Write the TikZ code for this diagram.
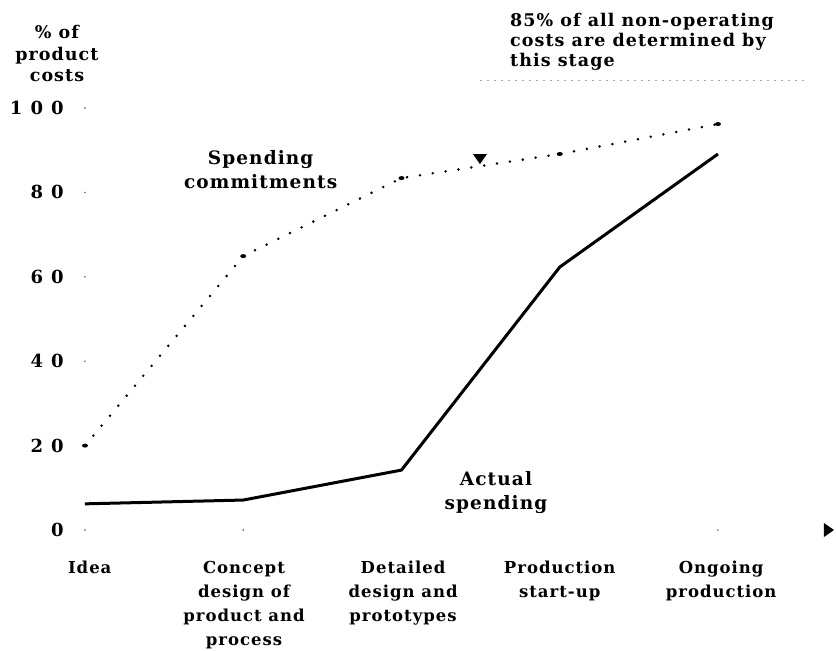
\documentclass[tikz,border=0pt]{standalone}
\usepackage{fontspec}
\setmainfont{DejaVu Serif}
\newfontfamily\chartfont{DejaVu Serif}[LetterSpace=6]
\newfontfamily\numfont{DejaVu Serif}[LetterSpace=45]

\tikzset{
  stagelabel/.style={anchor=north, align=center, inner sep=0pt,
    font=\chartfont\bfseries\fontsize{16.5}{24}\selectfont},
  curvelabel/.style={anchor=north, align=center, inner sep=0pt,
    font=\chartfont\bfseries\fontsize{18.5}{24}\selectfont},
  numlabel/.style={anchor=east, inner sep=0pt,
    font=\numfont\bfseries\fontsize{18}{20}\selectfont},
  dotline/.style={line width=2.8pt, line cap=round, dash pattern=on 0pt off 13pt},
  solidline/.style={line width=3pt, line join=round},
  tickdot/.style={fill=black!70}
}

\begin{document}
\begin{tikzpicture}[x=158.25pt, y=4.22pt]
\useasboundingbox (-0.537, -28.44) rectangle (4.746, 125.6);

% vertical scale
\node[curvelabel, font=\chartfont\bfseries\fontsize{17.5}{21.5}\selectfont] (yTitle) at (-0.177, 119.6) {\% of\\product\\costs};
\foreach \v in {0, 20, 40, 60, 80, 100}
  \node[numlabel] (num\v) at (-0.133, \v) {\v};
\foreach \v in {0, 40, 60, 80, 100}
  \fill[tickdot] (0, \v) circle (0.8pt);
\fill[tickdot] (1, 0) circle (0.8pt);
\fill[tickdot] (4, 0) circle (0.8pt);

% stages
\node[stagelabel] (idea) at (0.03, -7.35) {Idea};
\node[stagelabel] (concept) at (1.005, -7.35) {Concept\\design of\\product and\\process};
\node[stagelabel] (detailed) at (2.01, -7.35) {Detailed\\design and\\prototypes};
\node[stagelabel] (startup) at (3, -7.35) {Production\\start-up};
\node[stagelabel] (ongoing) at (4.02, -7.35) {Ongoing\\production};

\coordinate (axisEnd) at (4.733, 0);
\fill (axisEnd) -- ++(-10pt, 7pt) -- ++(0, -14pt) -- cycle;

% spending commitments
\coordinate (c0) at (0, 20);
\coordinate (c1) at (1, 64.9);
\coordinate (c2) at (2, 83.4);
\coordinate (c3) at (3, 89.1);
\coordinate (c4) at (4, 96.2);
\draw[dotline] (c0) -- (c1) -- (c2) -- (c3) -- (c4);
\foreach \p in {c0, c1, c2, c3, c4}
  \fill (\p) ellipse (3pt and 2pt);
\node[curvelabel] (commitLabel) at (1.11, 89.9) {Spending\\commitments};

% actual spending
\coordinate (a0) at (0, 6.2);
\coordinate (a1) at (1, 7.1);
\coordinate (a2) at (2, 14.2);
\coordinate (a3) at (3, 62.3);
\coordinate (a4) at (4, 89.1);
\draw[solidline] (a0) -- (a1) -- (a2) -- (a3) -- (a4);
\node[curvelabel] (actualLabel) at (2.597, 14.0) {Actual\\spending};

% 85% note
\coordinate (stageMark) at (2.496, 87.9);
\fill (stageMark) ++(-7pt, 5pt) -- ++(14pt, 0) -- ++(-7pt, -10pt) -- cycle;
\coordinate (noteLeft) at (2.496, 106.6);
\coordinate (noteRight) at (4.556, 106.6);
\draw[black!35, line width=1pt, dash pattern=on 2pt off 5pt] (noteLeft) -- (noteRight);
\node[anchor=north west, align=left, inner sep=0pt,
  font=\chartfont\bfseries\fontsize{17.5}{20}\selectfont] (note) at (2.686, 122.6)
  {85\% of all non-operating\\costs are determined by\\this stage};

\end{tikzpicture}
\end{document}
